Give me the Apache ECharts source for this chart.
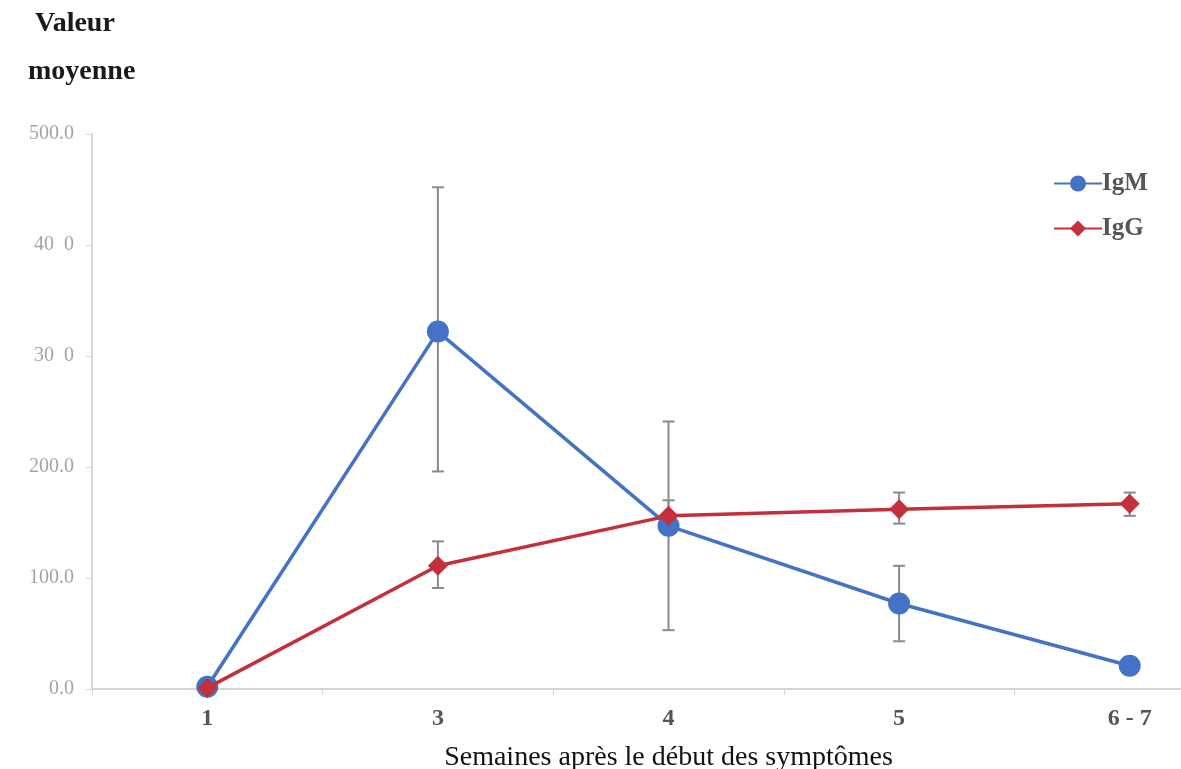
<!DOCTYPE html>
<html>
<head>
<meta charset="utf-8">
<script src="https://cdn.jsdelivr.net/npm/echarts@6/dist/echarts.min.js"></script>
<style>
  html, body { margin: 0; padding: 0; background: #fff; overflow: hidden; }
  #chart { width: 1181px; height: 769px; }
</style>
</head>
<body>
<div id="chart"></div>
<script>
// Weeks after symptom onset
const weeks = ['1', '3', '4', '5', '6 - 7'];

// Mean antibody values and error-bar bounds
const igmMean = [2, 322, 147, 77, 21];
const igmLow  = [null, 196, 53, 43, null];
const igmHigh = [null, 452, 241, 111, null];

const iggMean = [1, 111, 156, 162, 167];
const iggLow  = [null, 91, 143, 149, 156];
const iggHigh = [null, 133, 170, 177, 177];

// Y tick labels as printed on the axis
const yTickValues = [0, 100, 200, 300, 400, 500];
const yTickLabels = ['0.0', '100.0', '200.0', '30  0', '40  0', '500.0'];

const serif = '"Liberation Serif", "DejaVu Serif", serif';

function errorBarSeries(name, low, high) {
  const data = weeks.map((w, i) => [i, low[i], high[i]]).filter(d => d[1] != null);
  return {
    type: 'custom',
    name: name,
    z: 1,
    silent: true,
    data: data,
    renderItem: function (params, api) {
      const x = api.value(0);
      const lo = api.coord([x, api.value(1)]);
      const hi = api.coord([x, api.value(2)]);
      const cap = 6;
      const style = { stroke: '#8a8a8a', lineWidth: 2 };
      return {
        type: 'group',
        children: [
          { type: 'line', shape: { x1: hi[0], y1: hi[1], x2: lo[0], y2: lo[1] }, style: style },
          { type: 'line', shape: { x1: hi[0] - cap, y1: hi[1], x2: hi[0] + cap, y2: hi[1] }, style: style },
          { type: 'line', shape: { x1: lo[0] - cap, y1: lo[1], x2: lo[0] + cap, y2: lo[1] }, style: style }
        ]
      };
    }
  };
}

const chart = echarts.init(document.getElementById('chart'), null, { renderer: 'canvas' });

chart.setOption({
  animation: false,
  backgroundColor: '#ffffff',
  graphic: [
    {
      type: 'text', left: 35, top: 10,
      style: { text: 'Valeur', font: 'bold 28px ' + serif, fill: '#1a1a1a' }
    },
    {
      type: 'text', left: 28, top: 58,
      style: { text: 'moyenne', font: 'bold 28px ' + serif, fill: '#1a1a1a' }
    }
  ],
  legend: {
    data: ['IgM', 'IgG'],
    orient: 'vertical',
    left: 1048,
    top: 166,
    itemGap: 20,
    itemWidth: 48,
    itemHeight: 20,
    textStyle: {
      fontFamily: serif,
      fontWeight: 'bold',
      fontSize: 25,
      color: '#555555',
      padding: [0, 0, 0, -5]
    }
  },
  grid: {
    left: 92,
    top: 134,
    width: 1153,
    height: 555,
    containLabel: false,
    outerBoundsMode: 'none'
  },
  xAxis: {
    type: 'category',
    data: weeks,
    boundaryGap: true,
    name: 'Semaines après le début des symptômes',
    nameLocation: 'middle',
    nameGap: 55,
    nameTextStyle: {
      fontFamily: serif,
      fontSize: 28,
      color: '#111111'
    },
    axisLine: { lineStyle: { color: '#d4d4d4', width: 2 } },
    axisTick: { show: true, alignWithLabel: false, length: 6, lineStyle: { color: '#d4d4d4' } },
    axisLabel: {
      margin: 18,
      fontFamily: serif,
      fontWeight: 'bold',
      fontSize: 24,
      color: '#555555'
    }
  },
  yAxis: {
    type: 'value',
    min: 0,
    max: 500,
    interval: 100,
    splitLine: { show: false },
    axisLine: { show: true, lineStyle: { color: '#d9d9d9', width: 2 } },
    axisTick: { show: true, length: 6, lineStyle: { color: '#d9d9d9' } },
    axisLabel: {
      margin: 18,
      fontFamily: serif,
      fontSize: 20,
      color: '#a3a3a3',
      formatter: function (v) {
        const i = yTickValues.indexOf(v);
        return i >= 0 ? yTickLabels[i] : '';
      }
    }
  },
  series: [
    errorBarSeries('IgM-err', igmLow, igmHigh),
    errorBarSeries('IgG-err', iggLow, iggHigh),
    {
      name: 'IgM',
      type: 'line',
      z: 3,
      data: igmMean,
      symbol: 'circle',
      symbolSize: 22,
      lineStyle: { color: '#4472c4', width: 3.5 },
      itemStyle: { color: '#4472c4' }
    },
    {
      name: 'IgG',
      type: 'line',
      z: 4,
      data: iggMean,
      symbol: 'diamond',
      symbolSize: 20,
      lineStyle: { color: '#c3303c', width: 3.5 },
      itemStyle: { color: '#c3303c' }
    }
  ]
});
</script>
</body>
</html>
